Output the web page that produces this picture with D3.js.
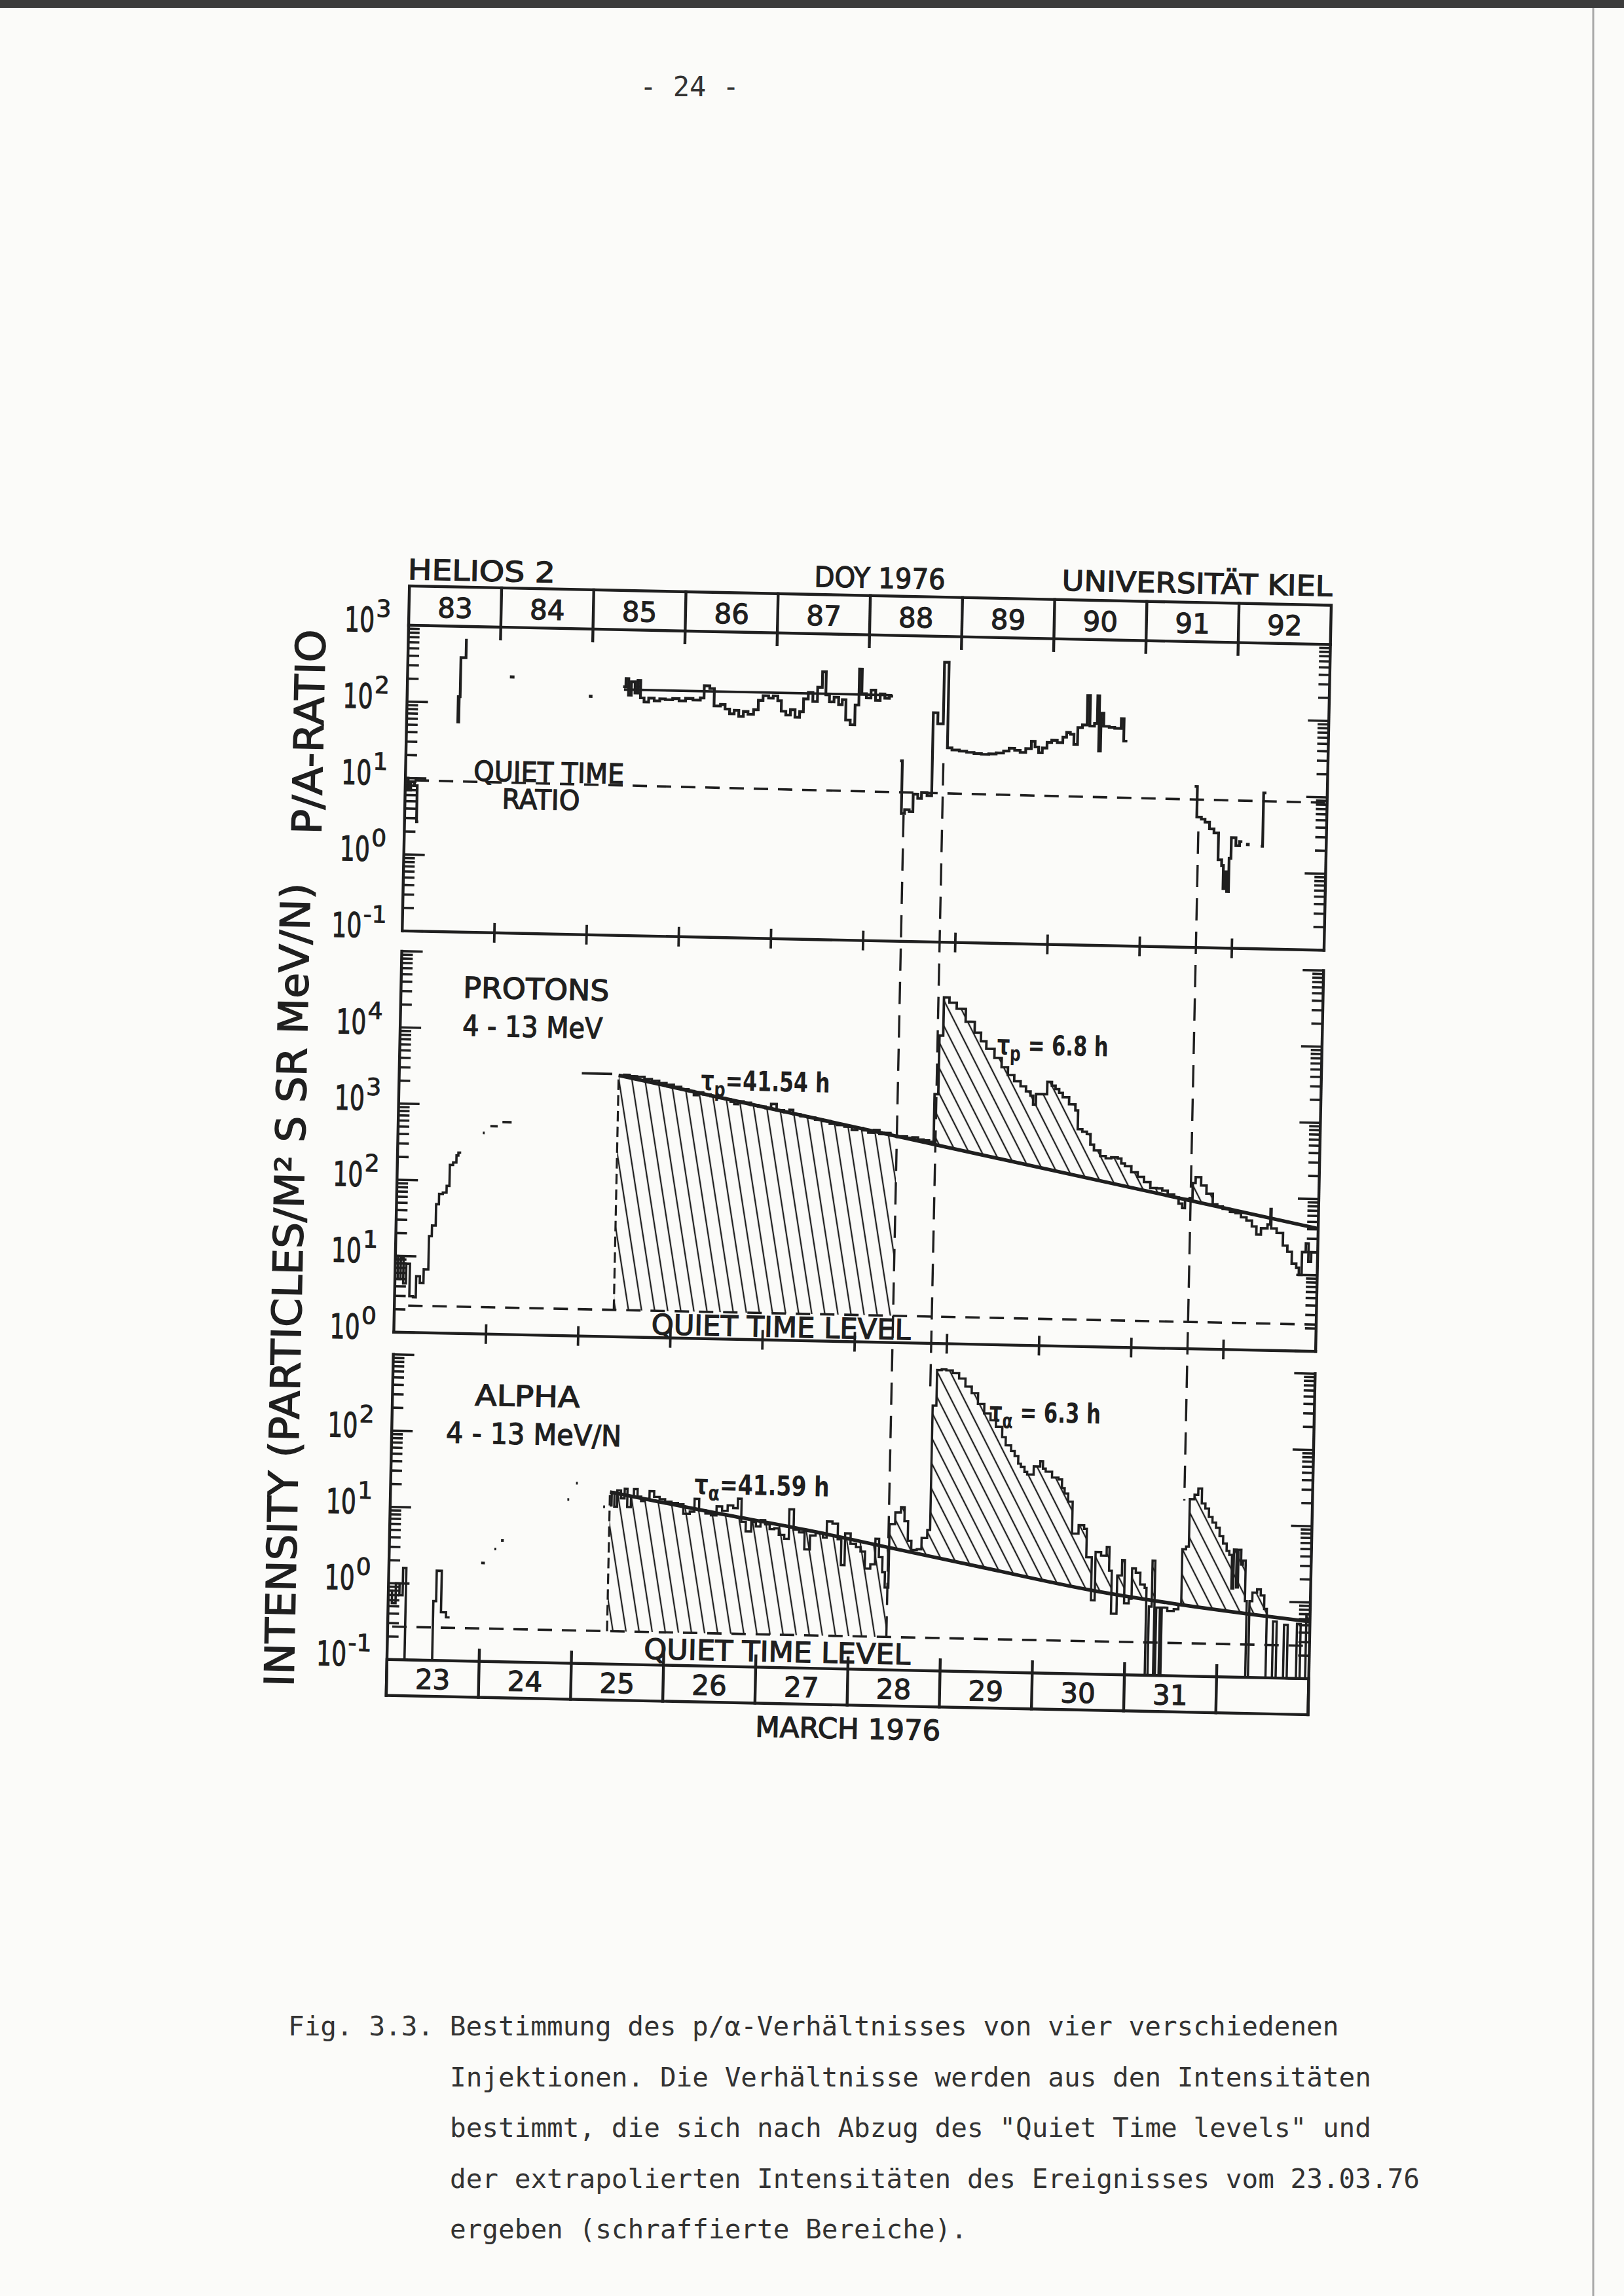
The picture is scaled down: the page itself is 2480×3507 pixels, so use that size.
<!DOCTYPE html>
<html><head><meta charset="utf-8">
<script src="https://cdn.jsdelivr.net/npm/d3@7"></script>
<style>html,body{margin:0;padding:0;background:#fbfbf9;}svg{display:block;}</style>
</head><body>
<svg id="c" width="2480" height="3507"></svg>
<script>
// ---------------- DATA ----------------
const doyLabels = ["83","84","85","86","87","88","89","90","91","92"];
const marchLabels = ["23","24","25","26","27","28","29","30","31",""];
const ratioTickExps = ["-1","0","1","2","3"];
const protonTickExps = ["0","1","2","3","4"];
const alphaTickExps = ["-1","0","1","2"];

// P/A ratio panel (DOY, ratio), step series (last point = end)
const ratioA = [[83.0,10],[83.03,7],[83.06,9],[83.1,8],[83.13,2.7],[83.15,2.7]];
const ratioB = [[83.54,120],[83.555,56],[83.565,120],[83.575,390],[83.63,660],[83.645,660]];
const ratioDashes = [[84.11,84.16,225],[84.97,85.01,132],[92.13,92.17,2.3]];
const ratioMean = [[85.35,165],[88.26,165]];
const ratioC = [[85.34,180],[85.37,230],[85.40,140],[85.43,210],[85.47,150],[85.50,220],[85.53,130],[85.57,115],[85.62,130],[85.68,120],[85.74,128],[85.80,125],[85.88,130],[85.95,122],[86.02,132],[86.10,126],[86.18,135],[86.22,195],[86.28,180],[86.33,107],[86.40,112],[86.45,98],[86.50,85],[86.55,95],[86.60,79],[86.65,92],[86.70,85],[86.76,98],[86.81,130],[86.86,150],[86.92,140],[86.97,150],[87.02,130],[87.06,95],[87.11,85],[87.16,100],[87.21,80],[87.26,95],[87.30,140],[87.35,170],[87.40,130],[87.45,200],[87.50,320],[87.54,160],[87.58,130],[87.63,150],[87.68,120],[87.72,140],[87.76,76],[87.81,66],[87.86,120],[87.90,355],[87.93,170],[87.98,150],[88.03,190],[88.08,140],[88.13,170],[88.18,150],[88.23,160],[88.27,160]];
const ratioD = [[88.36,23],[88.385,4.7],[88.42,5.3],[88.47,5.0],[88.51,8.5],[88.56,7.5],[88.6,9],[88.66,8.2],[88.71,100],[88.76,72],[88.82,460],[88.87,35],[88.92,33],[89.0,32],[89.08,31],[89.16,30],[89.24,29.5],[89.32,30],[89.4,31],[89.48,33],[89.54,36],[89.6,34],[89.66,32],[89.72,36],[89.78,45],[89.82,38],[89.86,32],[89.9,37],[89.95,44],[90.0,47],[90.06,44],[90.12,52],[90.16,60],[90.2,57],[90.24,42],[90.28,70],[90.33,76],[90.38,185],[90.41,74],[90.46,80],[90.49,185],[90.51,35],[90.53,110],[90.56,74],[90.62,72],[90.68,70],[90.75,94],[90.78,48],[90.82,48]];
const ratioE = [[91.56,12.8],[91.59,5.1],[91.64,4.8],[91.68,4.4],[91.73,3.6],[91.78,3.2],[91.83,1.43],[91.87,1.2],[91.89,0.6],[91.91,1.0],[91.93,0.55],[91.95,1.5],[91.97,2.8],[92.02,2.2],[92.06,2.5],[92.09,2.5]];
const ratioF = [[92.29,2.2],[92.31,11],[92.34,11]];
const qtRatio = [[83.1,9.4],[93.0,8.5]];

// Protons 4-13 MeV
const protonA = [[83.0,10],[83.03,5],[83.06,9.5],[83.09,4.4],[83.12,8],[83.16,3.0],[83.2,2.9],[83.23,5.5],[83.27,4.5],[83.31,6.8],[83.36,18.6],[83.39,25.7],[83.43,49],[83.46,67],[83.5,70],[83.54,86],[83.57,162],[83.605,175],[83.64,217],[83.66,236],[83.69,236]];
const protonDashes = [[83.92,83.94,435],[84.0,84.08,535],[84.13,84.23,610],[84.98,85.31,2800]];
const protonMain = [[85.38,2700],[85.44,2750],[85.5,2650],[85.58,2620],[85.66,2450],[85.74,2350],[85.82,2200],[85.9,2100],[85.98,1980],[86.06,1850],[86.14,1760],[86.2,1560],[86.24,1700],[86.3,1600],[86.38,1520],[86.46,1450],[86.54,1400],[86.6,1300],[86.64,1220],[86.68,1330],[86.74,1280],[86.82,1200],[86.9,1150],[86.98,1100],[87.04,1250],[87.1,1040],[87.18,980],[87.24,1060],[87.28,930],[87.36,880],[87.44,850],[87.52,800],[87.6,770],[87.68,720],[87.76,690],[87.84,660],[87.92,600],[87.98,640],[88.04,600],[88.1,560],[88.16,610],[88.22,540],[88.28,560],[88.34,520],[88.41,500],[88.46,510],[88.52,490],[88.58,500],[88.64,470],[88.7,460],[88.76,440],[88.81,1870],[88.85,11000],[88.89,35000],[88.95,30000],[89.03,25000],[89.13,17000],[89.23,12300],[89.3,9500],[89.36,7600],[89.45,5800],[89.53,4400],[89.6,3500],[89.67,2900],[89.74,2500],[89.8,2150],[89.85,1900],[89.88,1450],[89.91,2000],[90.0,2000],[90.03,2900],[90.08,2600],[90.12,2350],[90.16,2100],[90.2,1850],[90.27,1500],[90.34,1250],[90.37,710],[90.42,660],[90.47,615],[90.51,450],[90.55,380],[90.62,320],[90.68,300],[90.74,310],[90.81,300],[90.85,260],[90.89,240],[90.96,200],[91.03,175],[91.1,150],[91.17,126],[91.24,125],[91.3,117],[91.36,105],[91.43,96],[91.48,80],[91.52,70],[91.55,92],[91.6,95],[91.63,150],[91.66,180],[91.72,140],[91.78,110],[91.85,80],[91.9,75],[91.96,70],[92.04,64],[92.1,62],[92.16,55],[92.22,50],[92.28,42],[92.33,33],[92.38,40],[92.45,45],[92.48,72],[92.49,40],[92.55,35],[92.62,24],[92.67,20],[92.72,14],[92.77,12.4],[92.8,10],[92.83,20],[92.87,26],[92.9,15],[92.93,20],[93.0,20]];
const protonDecay = [[85.38,2700],[93.0,41]];
const qtProton = [[83.15,2.25],[93.0,2.25]];

// Alpha 4-13 MeV/N
const alphaA = [[83.0,0.8],[83.04,0.55],[83.08,1.0],[83.12,0.7],[83.155,1.6],[83.19,0.1],[83.49,0.6],[83.52,1.5],[83.575,0.43],[83.63,0.37],[83.67,0.37]];
const alphaDashes = [[84.0,84.04,1.95],[84.14,84.16,3.0],[84.21,84.24,3.9],[84.92,84.94,14],[85.01,85.03,23],[85.31,85.33,11.5]];
const alphaMain = [[85.38,12],[85.40,18],[85.43,11.6],[85.46,19],[85.5,15],[85.54,20],[85.57,11.6],[85.61,16],[85.64,20],[85.68,16],[85.72,14],[85.76,15],[85.81,19],[85.86,16],[85.92,15],[85.98,14],[86.05,13.5],[86.12,13],[86.18,9.8],[86.25,10.5],[86.3,15.5],[86.35,11],[86.42,10],[86.48,9.5],[86.54,12.5],[86.6,11],[86.66,13],[86.72,12],[86.77,16],[86.81,8],[86.86,6.0],[86.92,8],[86.97,7],[87.02,8.5],[87.07,7.5],[87.12,6.5],[87.17,6.7],[87.22,5.5],[87.28,4.9],[87.33,12],[87.38,6.5],[87.44,6.0],[87.5,3.6],[87.56,5.5],[87.62,6],[87.7,5.2],[87.74,8.5],[87.8,8.0],[87.86,5],[87.9,2.3],[87.94,6],[88.0,4.4],[88.06,4.0],[88.11,3.5],[88.16,2.1],[88.22,2.4],[88.27,5.2],[88.31,3],[88.35,1.9],[88.38,1.2],[88.42,8.2],[88.48,11.7],[88.54,13.7],[88.58,9],[88.62,5],[88.66,3.8],[88.72,3.9],[88.77,5.5],[88.83,7],[88.86,300],[88.9,880],[88.95,900],[89.0,880],[89.07,810],[89.14,690],[89.21,545],[89.28,450],[89.35,325],[89.42,245],[89.49,200],[89.55,165],[89.62,121],[89.66,95],[89.72,80],[89.76,69],[89.8,55],[89.83,50],[89.87,43],[89.9,40],[89.97,51],[90.04,60],[90.07,48],[90.1,44],[90.17,37],[90.24,35],[90.28,27],[90.31,23],[90.35,18],[90.4,6.9],[90.47,8.9],[90.53,8.0],[90.56,3.4],[90.62,0.93],[90.66,4.0],[90.72,3.6],[90.78,4.7],[90.81,2.3],[90.84,0.63],[90.9,2.0],[90.95,3.2],[90.98,0.87],[91.03,1.0],[91.06,2.5],[91.1,2.2],[91.15,1.55],[91.2,1.4],[91.22,0.1],[91.25,0.8],[91.28,3.2],[91.31,0.1],[91.33,0.78],[91.37,0.1],[91.39,0.78],[91.45,0.71],[91.52,0.75],[91.57,0.87],[91.6,4.6],[91.64,5],[91.67,21],[91.72,24],[91.76,29],[91.8,18.6],[91.84,16],[91.88,12.4],[91.92,10.5],[91.96,9.0],[92.0,7],[92.04,5.6],[92.08,4.5],[92.11,4.0],[92.14,1.45],[92.16,4.7],[92.19,1.5],[92.21,4.7],[92.24,3.0],[92.26,3.4],[92.29,1.0],[92.31,0.1],[92.34,1.0],[92.37,1.3],[92.42,1.44],[92.46,1.2],[92.5,0.8],[92.53,0.1],[92.6,0.55],[92.64,0.1],[92.72,0.5],[92.76,0.1],[92.86,0.52],[92.9,0.1],[92.96,0.7],[93.0,0.7]];
const alphaDecay = [[85.38,18],[86.48,10.5],[87.51,6.5],[88.43,4.0],[89.39,2.4],[90.64,1.25],[91.47,0.9],[92.33,0.68],[93.0,0.56]];
const qtAlpha = [[83.05,0.27],[93.0,0.27]];

// injection markers (DOY) and their dashed extent (ratio value at top, alpha value at bottom)
const injectionDoy = [88.41, 88.83, 91.61];
const injectionRatioTop = [4.5, 22, 3.3];
const injectionAlphaBottom = [0.27, 500, 20];
const hatchStart = 85.38, hatchEnd1 = 88.41, protonHatch2Start = 88.8, alphaHatch2Start = 88.42;

const captionLines = [
 "Fig. 3.3. Bestimmung des p/\u03b1-Verh\u00e4ltnisses von vier verschiedenen",
 "Injektionen. Die Verh\u00e4ltnisse werden aus den Intensit\u00e4ten",
 "bestimmt, die sich nach Abzug des \"Quiet Time levels\" und",
 "der extrapolierten Intensit\u00e4ten des Ereignisses vom 23.03.76",
 "ergeben (schraffierte Bereiche)."
];

// ---------------- DRAWING ----------------
const INK = "#1f1f1f";
const SANS = "'DejaVu Sans', 'Liberation Sans', sans-serif";
const MONO = "'DejaVu Sans Mono', 'Liberation Mono', monospace";
const svg = d3.select("#c");
svg.append("rect").attr("width",2480).attr("height",3507).attr("fill","#fbfbf9");
svg.append("rect").attr("x",0).attr("y",0).attr("width",2480).attr("height",12).attr("fill","#3c3c3c");
svg.append("line").attr("x1",2433).attr("x2",2433).attr("y1",12).attr("y2",3507).attr("stroke","#a8a8a8").attr("stroke-width",3);

const defs = svg.append("defs");
function hatch(id, angle, hs){
  const p = hs*Math.sin(angle*Math.PI/180);
  const pat = defs.append("pattern").attr("id",id).attr("patternUnits","userSpaceOnUse")
    .attr("width",p).attr("height",p).attr("patternTransform",`rotate(${angle-90})`);
  pat.append("line").attr("x1",p/2).attr("x2",p/2).attr("y1",-2).attr("y2",p+2)
    .attr("stroke",INK).attr("stroke-width",2.3);
}
hatch("hSteep", 80, 20);
hatch("hMid", 62, 20);

const X0 = 624, X1 = 2032;
const x = d3.scaleLinear().domain([83,93]).range([X0,X1]);
const y1 = d3.scaleLog().domain([0.1,1000]).range([1422,955]);
const y2 = d3.scaleLog().domain([1,1e5]).range([2035,1453]);
const y3 = d3.scaleLog().domain([0.1,1000]).range([2535,2069]);

const g = svg.append("g").attr("transform","rotate(1.2 624 955)");

function clipRect(id, xa, xb, ya, yb){
  defs.append("clipPath").attr("id",id).append("rect")
    .attr("x",x(xa)).attr("width",x(xb)-x(xa)).attr("y",ya).attr("height",yb-ya);
}
function clipUnder(id, data, ys){
  const bottom = ys.range()[0];
  defs.append("clipPath").attr("id",id).append("path")
    .attr("d", d3.area().x(d=>x(d[0])).y0(bottom).y1(d=>ys(d[1])).curve(d3.curveStepAfter)(data));
}

// ---- hatched regions ----
clipRect("cpR1", hatchStart, hatchEnd1, 1400, 2100);
g.append("path").attr("clip-path","url(#cpR1)").attr("fill","url(#hSteep)")
  .attr("d", d3.area().x(d=>x(d[0])).y0(y2(qtProton[0][1])).y1(d=>y2(d[1]))(protonDecay));
clipUnder("cpData", protonMain, y2);
clipRect("cpR2", protonHatch2Start, 93, 1400, 2100);
g.append("g").attr("clip-path","url(#cpData)").append("path").attr("clip-path","url(#cpR2)")
  .attr("fill","url(#hMid)")
  .attr("d", d3.area().x(d=>x(d[0])).y0(d=>y2(d[1])).y1(y2.range()[1])(protonDecay));
clipRect("caR1", hatchStart, hatchEnd1, 2000, 2600);
g.append("path").attr("clip-path","url(#caR1)").attr("fill","url(#hSteep)")
  .attr("d", d3.area().x(d=>x(d[0])).y0(y3(qtAlpha[0][1])).y1(d=>y3(d[1])).curve(d3.curveMonotoneX)(alphaDecay));
clipUnder("caData", alphaMain, y3);
clipRect("caR2", alphaHatch2Start, 93, 2000, 2600);
g.append("g").attr("clip-path","url(#caData)").append("path").attr("clip-path","url(#caR2)")
  .attr("fill","url(#hMid)")
  .attr("d", d3.area().x(d=>x(d[0])).y0(d=>y3(d[1])).y1(y3.range()[1]).curve(d3.curveMonotoneX)(alphaDecay));

// ---- dashed lines ----
function dashed(sel, w, da){ return sel.attr("stroke",INK).attr("stroke-width",w).attr("stroke-dasharray",da).attr("fill","none"); }
const straight = ys => d3.line().x(d=>x(d[0])).y(d=>ys(d[1]));
dashed(g.append("path").attr("d", straight(y1)(qtRatio)), 3.6, "22 15");
dashed(g.append("path").attr("d", straight(y2)(qtProton)), 3.6, "22 15");
dashed(g.append("path").attr("d", straight(y3)(qtAlpha)), 3.6, "22 15");
injectionDoy.forEach((d,i)=>{
  dashed(g.append("line").attr("x1",x(d)).attr("x2",x(d))
    .attr("y1",y1(injectionRatioTop[i])).attr("y2",y3(injectionAlphaBottom[i])), 3.4, "34 17");
});
dashed(g.append("line").attr("x1",x(hatchStart)).attr("x2",x(hatchStart))
  .attr("y1",y2(qtProton[0][1])).attr("y2",y2(protonDecay[0][1])), 3.2, "16 8");
dashed(g.append("line").attr("x1",x(hatchStart)).attr("x2",x(hatchStart))
  .attr("y1",y3(qtAlpha[0][1])).attr("y2",y3(alphaDecay[0][1])), 3.2, "16 8");

// ---- decay lines ----
g.append("path").attr("d", straight(y2)(protonDecay)).attr("stroke",INK).attr("stroke-width",5.5).attr("fill","none");
g.append("path").attr("d", d3.line().x(d=>x(d[0])).y(d=>y3(d[1])).curve(d3.curveMonotoneX)(alphaDecay))
  .attr("stroke",INK).attr("stroke-width",5.5).attr("fill","none");
g.append("path").attr("d", straight(y1)(ratioMean)).attr("stroke",INK).attr("stroke-width",3.8).attr("fill","none");

// ---- data ----
function steps(data, ys, w){
  g.append("path").attr("d", d3.line().x(d=>x(d[0])).y(d=>ys(d[1])).curve(d3.curveStepAfter)(data))
    .attr("stroke",INK).attr("stroke-width",w||3.5).attr("fill","none").attr("stroke-linejoin","miter");
}
function dashes(list, ys, w){
  list.forEach(d=>g.append("line").attr("x1",x(d[0])).attr("x2",x(d[1])).attr("y1",ys(d[2])).attr("y2",ys(d[2]))
    .attr("stroke",INK).attr("stroke-width",w||4));
}
[ratioA, ratioB, ratioC, ratioD, ratioE, ratioF].forEach(s=>steps(s,y1,4.2));
dashes(ratioDashes, y1, 4.8);
steps(protonA, y2, 3.6); steps(protonMain, y2, 3.8);
dashes(protonDashes, y2, 3.8);
steps(alphaA, y3, 3.6); steps(alphaMain, y3, 3.5);
dashes(alphaDashes, y3, 4);

// ---- axes ----
const AX = 4.4;
function vline(xx, ya, yb){ g.append("line").attr("x1",xx).attr("x2",xx).attr("y1",ya).attr("y2",yb).attr("stroke",INK).attr("stroke-width",AX).attr("stroke-linecap","square"); }
function hline(xa, xb, yy){ g.append("line").attr("x1",xa).attr("x2",xb).attr("y1",yy).attr("y2",yy).attr("stroke",INK).attr("stroke-width",AX).attr("stroke-linecap","square"); }
function logTicks(ys){
  const [lo,hi] = ys.domain();
  const e0 = Math.round(Math.log10(lo)), e1 = Math.round(Math.log10(hi));
  for (let e=e0; e<=e1; e++){
    for (let k=1;k<=9;k++){
      if (e===e1 && k>1) break;
      const yy = ys(k*Math.pow(10,e));
      const L = k===1 ? 32 : 17;
      g.append("line").attr("x1",X0).attr("x2",X0+L).attr("y1",yy).attr("y2",yy).attr("stroke",INK).attr("stroke-width",3.6);
      g.append("line").attr("x1",X1).attr("x2",X1-L).attr("y1",yy).attr("y2",yy).attr("stroke",INK).attr("stroke-width",3.6);
    }
  }
}
function tickLabels(ys, exps){
  exps.forEach(e=>{
    const yy = ys(Math.pow(10,+e));
    const shift = e==="-1" ? 10 : 0;
    g.append("text").attr("x",X0-98-shift).attr("y",yy+11).text("10")
      .attr("font-family",SANS).attr("font-size",52).attr("fill",INK)
      .attr("stroke",INK).attr("stroke-width",1.2)
      .attr("textLength",46).attr("lengthAdjust","spacingAndGlyphs");
    g.append("text").attr("x",X0-50-shift).attr("y",yy-12).text(e)
      .attr("font-family",SANS).attr("font-size",36).attr("fill",INK)
      .attr("stroke",INK).attr("stroke-width",1);
  });
}
const boxTop = 895;
g.append("rect").attr("x",X0).attr("y",boxTop).attr("width",X1-X0).attr("height",y1.range()[1]-boxTop)
  .attr("fill","none").attr("stroke",INK).attr("stroke-width",AX);
vline(X0, y1.range()[1], y1.range()[0]); vline(X1, y1.range()[1], y1.range()[0]);
hline(X0, X1, y1.range()[0]);
logTicks(y1); tickLabels(y1, ratioTickExps);
vline(X0, y2.range()[1], y2.range()[0]); vline(X1, y2.range()[1], y2.range()[0]);
hline(X0, X1, y2.range()[0]);
logTicks(y2); tickLabels(y2, protonTickExps);
const mBot = 2590;
vline(X0, y3.range()[1], mBot); vline(X1, y3.range()[1], mBot);
g.append("rect").attr("x",X0).attr("y",y3.range()[0]).attr("width",X1-X0).attr("height",mBot-y3.range()[0])
  .attr("fill","none").attr("stroke",INK).attr("stroke-width",AX);
logTicks(y3); tickLabels(y3, alphaTickExps);

doyLabels.forEach((lab,i)=>{
  const d = 83+i;
  if (i>0){
    vline(x(d), boxTop, y1.range()[1]+18);
    g.append("line").attr("x1",x(d)).attr("x2",x(d)).attr("y1",y1.range()[0]-15).attr("y2",y1.range()[0]+15).attr("stroke",INK).attr("stroke-width",3.8);
    g.append("line").attr("x1",x(d)).attr("x2",x(d)).attr("y1",y2.range()[0]-15).attr("y2",y2.range()[0]+15).attr("stroke",INK).attr("stroke-width",3.8);
    vline(x(d), y3.range()[0]-17, mBot);
  }
  g.append("text").attr("x",x(d+0.5)).attr("y",942).attr("text-anchor","middle").text(lab)
    .attr("font-family",SANS).attr("font-size",42).attr("fill",INK).attr("stroke",INK).attr("stroke-width",1.2);
  g.append("text").attr("x",x(d+0.5)).attr("y",2579).attr("text-anchor","middle").text(marchLabels[i])
    .attr("font-family",SANS).attr("font-size",42).attr("fill",INK).attr("stroke",INK).attr("stroke-width",1.2);
});

// ---- text labels ----
function label(txt, xx, yy, size, len, opts){
  opts = opts||{};
  const t = g.append("text").attr("x",xx).attr("y",yy).text(txt)
    .attr("font-family",SANS).attr("font-size",size).attr("fill",INK)
    .attr("stroke",INK).attr("stroke-width",1.3)
    .attr("text-anchor",opts.anchor||"start");
  if (len) t.attr("textLength",len).attr("lengthAdjust","spacingAndGlyphs");
  return t;
}
label("HELIOS 2", 621, 885, 43, 225);
label("DOY 1976", 1342, 883, 43, 200, {anchor:"middle"});
label("UNIVERSIT\u00c4T KIEL", 2033, 881, 43, 413, {anchor:"end"});
label("QUIET TIME", 728, 1190, 42, 230);
label("RATIO", 772, 1232, 42, 119);
label("PROTONS", 719, 1522, 44, 223);
label("4 - 13 MeV", 719, 1580, 44, 214);
label("QUIET TIME LEVEL", 1017, 2030, 43, 396);
label("ALPHA", 750, 2144, 44, 160);
label("4 - 13 MeV/N", 707, 2202, 44, 268);
label("QUIET TIME LEVEL", 1016, 2526, 43, 407);
label("MARCH 1976", 1330, 2641, 43, 283, {anchor:"middle"});

function tauLabel(sub, rest, xx, yy, len){
  const t = g.append("text").attr("x",xx).attr("y",yy).attr("font-family",SANS).attr("font-size",42)
    .attr("font-weight","bold").attr("fill",INK).attr("textLength",len).attr("lengthAdjust","spacingAndGlyphs");
  t.append("tspan").text("\u03c4");
  t.append("tspan").text(sub).attr("font-size",32).attr("dy",10);
  t.append("tspan").text(rest).attr("dy",-10);
}
tauLabel("p", "=41.54 h", 1085, 1655, 197);
tauLabel("p", " = 6.8 h", 1536, 1591, 170);
tauLabel("\u03b1", "=41.59 h", 1088, 2272, 206);
tauLabel("\u03b1", " = 6.3 h", 1536, 2152, 170);

function vtitle(txt, cx, cy, len){
  g.append("text").attr("transform",`translate(${cx+23},${cy}) rotate(-90)`).attr("text-anchor","middle")
    .text(txt).attr("font-family",SANS).attr("font-size",62).attr("fill",INK)
    .attr("stroke",INK).attr("stroke-width",1.4)
    .attr("textLength",len).attr("lengthAdjust","spacingAndGlyphs");
}
vtitle("P/A-RATIO", 474, 1121, 313);
vtitle("INTENSITY (PARTICLES/M\u00b2 S SR MeV/N)", 459, 1966, 1228);

// ---- page text ----
svg.append("text").attr("x",1053).attr("y",147).attr("text-anchor","middle").text("- 24 -")
  .attr("font-family",MONO).attr("font-size",42).attr("fill","#333");
captionLines.forEach((ln,i)=>{
  svg.append("text").attr("x", i===0 ? 440 : 687).attr("y", 3109 + i*77.5).text(ln)
    .attr("font-family",MONO).attr("font-size",41).attr("fill","#333");
});
</script>
</body></html>
